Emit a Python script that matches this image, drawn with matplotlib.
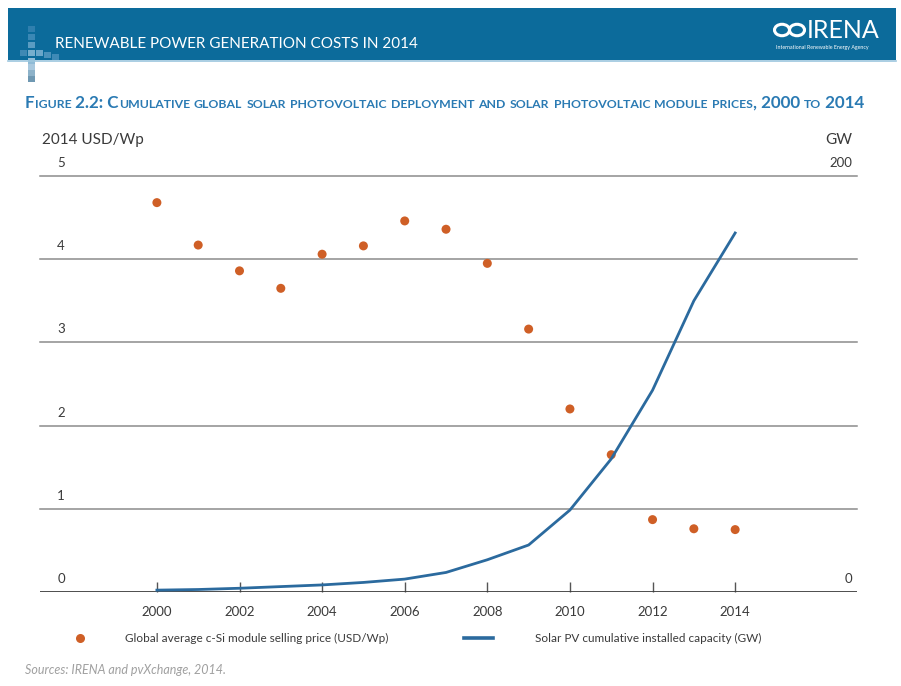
import numpy as np
import matplotlib.pyplot as plt
from matplotlib.patches import Rectangle, Circle
from matplotlib.lines import Line2D

plt.rcParams['font.family'] = ['Lato', 'DejaVu Sans']

# Data
years = np.arange(2000, 2015)
price_usd_wp = [4.68, 4.17, 3.86, 3.65, 4.06, 4.16, 4.46, 4.36, 3.95, 3.16,
                2.20, 1.65, 0.87, 0.76, 0.75]
capacity_gw = [0.9, 1.2, 1.8, 2.6, 3.4, 4.6, 6.2, 9.4, 15.5, 22.6,
               39.4, 64.0, 97.0, 140.0, 172.6]
xtick_years = np.arange(2000, 2015, 2)
left_ticks = [0, 1, 2, 3, 4, 5]
right_ticks = [0, 200]

W, H = 901, 686
ORANGE = '#cf5f26'
BLUE = '#2b6a9e'
HEADER = '#0c6b9b'
TITLE_BLUE = '#2a7ab3'
GREY_TXT = '#3a3a3a'


def fx(x):
    return x / W


def fy(y):
    return 1 - y / H


fig = plt.figure(figsize=(W / 100, H / 100), dpi=100)
fig.patch.set_facecolor('white')
renderer = fig.canvas.get_renderer()

# Header band
fig.add_artist(Rectangle((fx(8), fy(60)), fx(888), 52 / H, transform=fig.transFigure,
                         facecolor=HEADER, edgecolor='none'))
fig.add_artist(Line2D([fx(8), fx(896)], [fy(61), fy(61)], color='#9cc6de', lw=1.2))
# little squares on the left of the band
sq = [(28, 26, '#2f7fae'), (28, 34, '#3b88b5'), (28, 42, '#5a9cc2'), (28, 50, '#76aecd'),
      (20, 50, '#3f89b4'), (36, 50, '#6aa6c9'), (44, 52, '#4b92bb'), (52, 54, '#3e8ab6'),
      (28, 58, '#8fbbd6'), (28, 64, '#a8c8de'), (28, 70, '#8db2c9'), (28, 76, '#6f98b2')]
for sx, sy, sc in sq:
    fig.add_artist(Rectangle((fx(sx), fy(sy + 6)), 7 / W, 6 / H, transform=fig.transFigure,
                             facecolor=sc, edgecolor='none'))

fig.text(fx(55), fy(44), 'RENEWABLE POWER GENERATION COSTS IN 2014', color='white',
         fontsize=11, va='center', ha='left')

# IRENA logo
for cx in (782, 797):
    fig.add_artist(Circle((fx(cx), fy(30)), 7.5 / W, transform=fig.transFigure,
                          facecolor='none', edgecolor='white', lw=2.2))
fig.text(fx(807), fy(30), 'IRENA', color='white', fontsize=18, va='center', ha='left')
fig.text(fx(776), fy(47), 'International Renewable Energy Agency', color='white',
         fontsize=3.8, va='center', ha='left')

# Figure title in small caps, scaled to span the chart width
title = 'Figure 2.2: Cumulative global solar photovoltaic deployment and solar photovoltaic module prices, 2000 to 2014'
runs = []
for ch in title:
    is_small = ch.islower()
    if runs and runs[-1][1] == is_small:
        runs[-1][0] += ch.upper()
    else:
        runs.append([ch.upper(), is_small])


def draw_title(big, small, x0, y0):
    arts = []
    xpos = x0
    for txt, is_small in runs:
        t = fig.text(xpos, y0, txt, color=TITLE_BLUE, fontsize=small if is_small else big,
                     fontweight='bold', va='baseline', ha='left')
        xpos += t.get_window_extent(renderer=renderer).width / W
        arts.append(t)
    return arts, xpos


arts, xend = draw_title(10.5, 7.6, fx(25), fy(108))
scale = (fx(862) - fx(25)) / (xend - fx(25))
for a in arts:
    a.remove()
draw_title(10.5 * scale, 7.6 * scale, fx(25), fy(108))

# Main axes
ax = fig.add_axes([fx(40), fy(592), (857 - 40) / W, (592 - 176) / H])
ax.set_xlim(1997.17, 2016.95)
ax.set_ylim(0, 5)
for s in ax.spines.values():
    s.set_visible(False)
ax.set_yticks([])
for v in left_ticks[1:]:
    ax.axhline(v, color='#8c8c8c', lw=1.1, zorder=1, clip_on=False)
ax.axhline(0, color='#3c3c3c', lw=2.0, zorder=3)

ax.set_xticks(xtick_years)
ax.set_xticklabels([str(y) for y in xtick_years])
ax.tick_params(axis='x', direction='in', length=7, width=1, color='#555555',
               labelsize=9.5, labelcolor=GREY_TXT, pad=10)

for v in left_ticks:
    ax.annotate(str(v), xy=(0.021, v), xycoords=ax.get_yaxis_transform(),
                xytext=(0, 9.4), textcoords='offset points', va='center', ha='left',
                fontsize=9.5, color=GREY_TXT)

ax.scatter(years, price_usd_wp, s=42, color=ORANGE, zorder=4, edgecolors='none')

ax2 = ax.twinx()
ax2.set_ylim(0, 200)
ax2.set_yticks([])
for s in ax2.spines.values():
    s.set_visible(False)
ax2.plot(years, capacity_gw, color=BLUE, lw=2.0, zorder=5)
for v in right_ticks:
    ax2.annotate(str(v), xy=(0.994, v), xycoords=ax2.get_yaxis_transform(),
                 xytext=(0, 9.4), textcoords='offset points', va='center', ha='right',
                 fontsize=9.5, color=GREY_TXT)

fig.text(fx(42), fy(140), '2014 USD/Wp', fontsize=11, color=GREY_TXT, va='center', ha='left')
fig.text(fx(852), fy(140), 'GW', fontsize=11, color=GREY_TXT, va='center', ha='right')

# Legend
fig.add_artist(Line2D([fx(80)], [fy(638)], marker='o', markersize=6.5, color=ORANGE,
                      markeredgecolor='none', linestyle='none'))
fig.text(fx(125), fy(638), 'Global average c-Si module selling price (USD/Wp)',
         fontsize=8.5, color=GREY_TXT, va='center', ha='left')
fig.add_artist(Line2D([fx(464), fx(493)], [fy(638), fy(638)], color=BLUE, lw=2.6))
fig.text(fx(535), fy(638), 'Solar PV cumulative installed capacity (GW)',
         fontsize=8.5, color=GREY_TXT, va='center', ha='left')

fig.text(fx(25), fy(670), 'Sources: IRENA and pvXchange, 2014.', fontsize=9,
         color='#a0a0a0', style='italic', va='center', ha='left')

fig.savefig('out.png', dpi=100)
